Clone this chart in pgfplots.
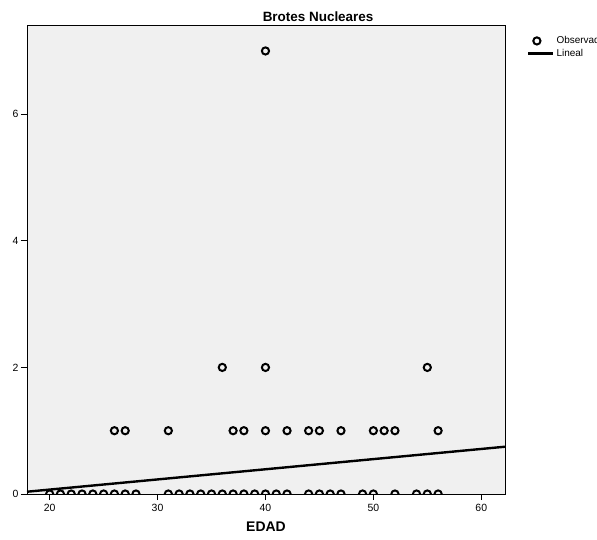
\documentclass[border=0pt]{standalone}
\usepackage{pgfplots}
\pgfplotsset{compat=1.18}
\usepackage{fontspec}
\setmainfont{Liberation Sans}
\definecolor{bgc}{HTML}{F0F0F0}
\begin{document}
\begin{tikzpicture}
\path[use as bounding box] (-27bp,-46bp) rectangle (570bp,494bp);
\begin{axis}[
  at={(0,0)}, anchor=south west,
  scale only axis, width=478bp, height=469bp,
  xmin=17.9, xmax=62.2, ymin=0, ymax=7.41,
  xtick={20,30,40,50,60}, ytick={0,2,4,6},
  xtick pos=left, ytick pos=left,
  tick align=outside, major tick length=6bp,
  tick style={black, line width=0.8bp},
  axis line style={black, line width=0.8bp},
  axis background/.style={fill=bgc},
  /pgf/number format/assume math mode=true,
  ticklabel style={font=\fontsize{10.5}{12}\selectfont},
  yticklabel style={xshift=1bp},
  xticklabel style={yshift=-1bp},
  xlabel={\textbf{EDAD}}, xlabel style={font=\fontsize{14}{16}\selectfont, yshift=-3bp},
  title={\textbf{Brotes Nucleares}},
  title style={at={(rel axis cs:0.609,1)}, anchor=south, font=\fontsize{13.5}{15}\selectfont, inner sep=1bp, yshift=-3.5bp},
  clip marker paths=true,
  legend style={at={(rel axis cs:1.046,0.98)}, anchor=north west, draw=none, fill=none,
    font=\fontsize{10}{12}\selectfont, row sep=0bp, inner sep=0pt},
  legend cell align=left,
]
\addplot[only marks, mark=o, mark size=3.6bp, mark options={line width=2bp, black}] coordinates {
(20,0)(21,0)(22,0)(23,0)(24,0)(25,0)(26,0)(27,0)(28,0)
(31,0)(32,0)(33,0)(34,0)(35,0)(36,0)(37,0)(38,0)(39,0)(40,0)(41,0)(42,0)
(44,0)(45,0)(46,0)(47,0)(49,0)(50,0)(52,0)(54,0)(55,0)(56,0)
(26,1)(27,1)(31,1)(37,1)(38,1)(40,1)(42,1)(44,1)(45,1)(47,1)(50,1)(51,1)(52,1)(56,1)
(36,2)(40,2)(55,2)
(40,7)
};
\addlegendentry{Observado}
\addplot[black, line width=2.4bp, legend image code/.code={\draw[black, line width=2.4bp] (0bp,0bp) -- (25bp,0bp);}] coordinates {(17.9,0.036) (62.2,0.747)};
\addlegendentry{Lineal}
\end{axis}
\end{tikzpicture}
\end{document}
